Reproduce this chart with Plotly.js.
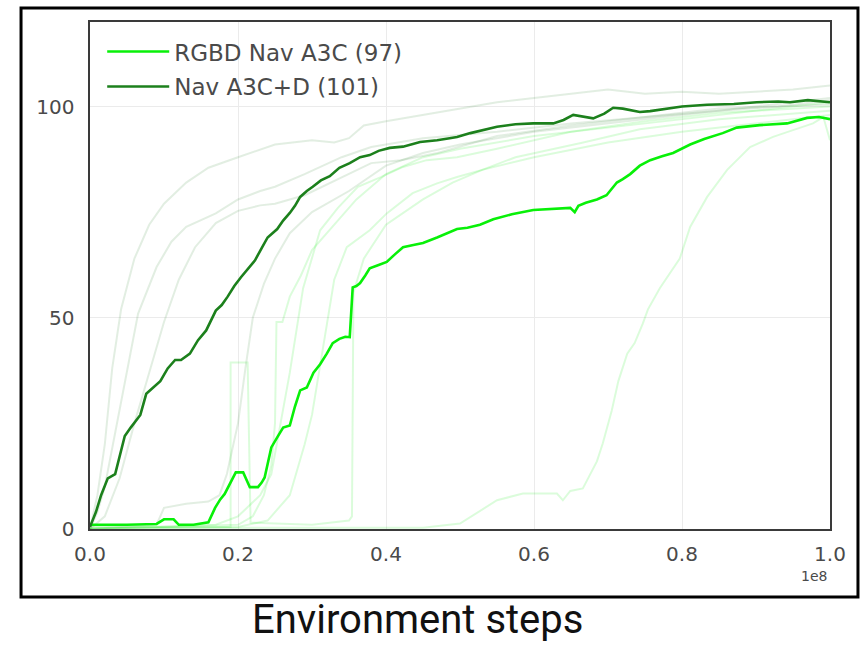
<!DOCTYPE html>
<html>
<head>
<meta charset="utf-8">
<script src="https://cdn.plot.ly/plotly-3.0.1.min.js"></script>
<style>
  html, body { margin: 0; padding: 0; background: #ffffff; }
  #chart { width: 862px; height: 667px; }
</style>
</head>
<body>
<div id="chart"></div>
<script>
// Environment steps are in units of 1e8 (the axis offset label shows "1e8").

// Highlighted runs
const rgbdX = [0, 0.01, 0.05, 0.09, 0.1, 0.113, 0.12, 0.14, 0.16, 0.169, 0.176, 0.182, 0.19, 0.197, 0.207, 0.212, 0.216, 0.227, 0.232, 0.236, 0.241, 0.245, 0.254, 0.261, 0.27, 0.277, 0.284, 0.293, 0.302, 0.311, 0.32, 0.328, 0.337, 0.345, 0.351, 0.355, 0.36, 0.365, 0.372, 0.378, 0.39, 0.401, 0.412, 0.423, 0.437, 0.45, 0.469, 0.486, 0.496, 0.51, 0.527, 0.545, 0.57, 0.599, 0.625, 0.649, 0.655, 0.66, 0.67, 0.685, 0.698, 0.705, 0.712, 0.72, 0.73, 0.743, 0.757, 0.773, 0.788, 0.811, 0.83, 0.855, 0.874, 0.905, 0.942, 0.969, 0.985, 1.0];
const rgbdY = [1, 1, 1, 1.2, 2.3, 2.3, 1, 1, 1.6, 5, 7, 8.3, 11, 13.4, 13.4, 11.5, 9.9, 9.9, 11, 12.2, 16, 19.3, 22, 24, 24.5, 29, 32.8, 33.5, 37, 39, 41.5, 44, 45, 45.5, 45.4, 57.2, 57.5, 58.2, 60, 61.7, 62.5, 63.2, 65, 66.7, 67.2, 67.7, 69, 70.3, 71, 71.3, 72, 73.3, 74.5, 75.5, 75.8, 76, 75, 76.5, 77.2, 78, 79, 80.5, 82, 82.8, 84, 86, 87.3, 88.2, 89, 91, 92.3, 93.7, 95, 95.6, 96, 97.3, 97.5, 97];

const navX = [0, 0.008, 0.015, 0.024, 0.034, 0.04, 0.047, 0.055, 0.062, 0.068, 0.076, 0.085, 0.095, 0.105, 0.115, 0.123, 0.135, 0.146, 0.157, 0.17, 0.178, 0.186, 0.195, 0.204, 0.213, 0.223, 0.232, 0.24, 0.253, 0.261, 0.27, 0.277, 0.284, 0.293, 0.301, 0.312, 0.324, 0.337, 0.351, 0.365, 0.378, 0.39, 0.405, 0.423, 0.446, 0.469, 0.486, 0.496, 0.514, 0.53, 0.55, 0.575, 0.599, 0.626, 0.64, 0.653, 0.668, 0.68, 0.695, 0.707, 0.72, 0.73, 0.743, 0.757, 0.77, 0.8, 0.834, 0.87, 0.901, 0.93, 0.946, 0.97, 1.0];
const navY = [0.5, 4, 8, 12, 13, 17, 22, 24, 25.5, 27, 32, 33.5, 35, 38, 40, 40, 41.5, 44.7, 47, 51.7, 53, 55, 57.5, 59.6, 61.5, 63.6, 66.5, 69, 71, 73, 74.8, 76.5, 78.6, 80, 81, 82.5, 83.5, 85.5, 86.6, 88, 88.5, 89.5, 90.2, 90.5, 91.6, 92, 92.5, 92.8, 93.7, 94.3, 95.2, 95.8, 96, 96, 96.8, 98, 97.5, 97.2, 98.3, 99.7, 99.5, 99.2, 98.7, 98.9, 99.2, 100, 100.4, 100.6, 101, 101.2, 101, 101.5, 101];

// Other runs, drawn faintly behind
const run1X = [0, 0.01, 0.02, 0.03, 0.042, 0.06, 0.08, 0.1, 0.13, 0.16, 0.2, 0.25, 0.3, 0.33, 0.35, 0.37, 0.4, 0.45, 0.5, 0.55, 0.6, 0.65, 0.7, 0.75, 0.8, 0.85, 0.9, 0.95, 1.0];
const run1Y = [0, 8, 20, 38, 52, 64, 72, 77, 82, 85.5, 88, 91, 92, 91.5, 92.5, 95.5, 96.5, 98, 99.5, 101, 102, 103, 104, 103, 103.5, 103, 103.5, 104, 105];
const run2X = [0, 0.01, 0.02, 0.04, 0.065, 0.09, 0.11, 0.13, 0.17, 0.2, 0.23, 0.25, 0.29, 0.34, 0.38, 0.45, 0.55, 0.65, 0.75, 0.85, 0.93, 1.0];
const run2Y = [0, 4, 10, 28, 51, 62, 68, 71.5, 74.7, 78, 80, 81, 84, 88, 90.4, 92.5, 94, 96, 97.5, 99, 100, 101.5];
const run3X = [0, 0.02, 0.04, 0.06, 0.08, 0.1, 0.12, 0.142, 0.17, 0.2, 0.23, 0.25, 0.29, 0.34, 0.38, 0.42, 0.47, 0.55, 0.65, 0.75, 0.85, 1.0];
const run3Y = [0, 3, 12, 25, 37, 49, 59, 66.7, 72.4, 75.3, 76.6, 77, 79, 83.3, 86.6, 87.3, 89, 93, 95.5, 97.5, 99.5, 100.5];
const run4X = [0, 0.09, 0.1, 0.13, 0.16, 0.175, 0.185, 0.2, 0.21, 0.22, 0.235, 0.25, 0.27, 0.3, 0.35, 0.4, 0.45, 0.5, 0.6, 0.7, 0.8, 0.9, 1.0];
const run4Y = [0, 1, 5, 6, 6.5, 8, 13, 25, 38, 50, 58, 64, 70, 75, 80, 86, 89, 91, 94, 96, 98, 100, 102];
const run5X = [0, 0.2, 0.22, 0.235, 0.245, 0.25, 0.252, 0.26, 0.27, 0.285, 0.3, 0.33, 0.36, 0.4, 0.45, 0.5, 0.6, 0.7, 0.8, 0.9, 1.0];
const run5Y = [0, 1, 3, 8, 15, 25, 49, 49, 55, 60, 66, 72, 78, 84, 88, 90, 93, 95, 97, 99, 101];
const run6X = [0, 0.17, 0.2, 0.23, 0.245, 0.27, 0.288, 0.311, 0.335, 0.362, 0.393, 0.423, 0.455, 0.496, 0.55, 0.65, 0.75, 0.85, 1.0];
const run6Y = [0, 1, 3, 8, 13, 37, 57, 70.7, 76, 81, 83.3, 85.7, 87.3, 88, 90, 94, 96.5, 98.5, 100];
const run7X = [0, 0.2, 0.24, 0.27, 0.29, 0.3, 0.315, 0.33, 0.347, 0.378, 0.401, 0.436, 0.469, 0.496, 0.53, 0.575, 0.665, 0.743, 0.85, 1.0];
const run7Y = [0, 0.5, 2, 8, 20, 27, 43, 59, 66.7, 70.7, 74.7, 79.5, 81.8, 83.3, 85, 88, 91.4, 94.6, 97, 99];
const run8X = [0, 0.19, 0.19, 0.213, 0.217, 0.3, 0.35, 0.354, 0.356, 0.37, 0.4, 0.45, 0.49, 0.53, 0.6, 0.7, 0.8, 0.9, 1.0];
const run8Y = [0.5, 0.5, 39.4, 39.4, 1.5, 1, 2, 3, 56, 64, 72, 78, 82, 85, 88, 91.5, 94, 96, 98];
const run9X = [0, 0.45, 0.5, 0.55, 0.585, 0.631, 0.639, 0.649, 0.666, 0.685, 0.693, 0.705, 0.714, 0.726, 0.736, 0.747, 0.754, 0.77, 0.797, 0.811, 0.834, 0.861, 0.892, 0.923, 0.95, 0.977, 0.991, 0.996, 1.0];
const run9Y = [0.3, 0.3, 1.3, 6.8, 8.4, 8.4, 6.8, 9, 9.6, 16, 20.3, 28, 35, 41.5, 44, 48.6, 52, 57, 64, 71.5, 78.6, 85, 90.4, 92.8, 94.4, 96, 97.5, 94.4, 92];

// Axis ticks
const xTickVals = [0, 0.2, 0.4, 0.6, 0.8, 1.0];
const xTickText = ['0.0', '0.2', '0.4', '0.6', '0.8', '1.0'];
const yTickVals = [0, 50, 100];
const yTickText = ['0', '50', '100'];

const seriesNames = ['RGBD Nav A3C (97)', 'Nav A3C+D (101)'];

const DARK = 'rgb(28,128,28)';
const BRIGHT = 'rgb(8,240,8)';
const DARK_FAINT = 'rgba(28,120,28,0.13)';
const BRIGHT_FAINT = 'rgba(0,235,0,0.14)';

function faint(x, y, color) {
  return { x: x, y: y, type: 'scatter', mode: 'lines', showlegend: false, hoverinfo: 'skip',
           line: { color: color, width: 2 } };
}

const traces = [
  faint(run1X, run1Y, DARK_FAINT),
  faint(run2X, run2Y, DARK_FAINT),
  faint(run3X, run3Y, DARK_FAINT),
  faint(run4X, run4Y, DARK_FAINT),
  faint(run5X, run5Y, BRIGHT_FAINT),
  faint(run6X, run6Y, BRIGHT_FAINT),
  faint(run7X, run7Y, BRIGHT_FAINT),
  faint(run8X, run8Y, BRIGHT_FAINT),
  faint(run9X, run9Y, BRIGHT_FAINT),
  { x: rgbdX, y: rgbdY, type: 'scatter', mode: 'lines', name: seriesNames[0], legendgroup: 'rgbd',
    line: { color: BRIGHT, width: 2.6 } },
  { x: navX, y: navY, type: 'scatter', mode: 'lines', name: seriesNames[1], legendgroup: 'nav',
    line: { color: DARK, width: 2.6 } }
];

const tickFont = { family: 'DejaVu Sans, sans-serif', size: 20, color: '#4a4a4a' };

const layout = {
  width: 862,
  height: 667,
  margin: { l: 90, r: 32, t: 22, b: 138 },
  paper_bgcolor: '#ffffff',
  plot_bgcolor: '#ffffff',
  showlegend: true,
  legend: {
    x: 0.0165, y: 0.984, xanchor: 'left', yanchor: 'top',
    bgcolor: 'rgba(0,0,0,0)',
    font: { family: 'DejaVu Sans, sans-serif', size: 23, color: '#4a4a4a' },
    itemwidth: 62,
    tracegroupgap: 2
  },
  xaxis: {
    range: [0, 1.0],
    tickvals: xTickVals, ticktext: xTickText,
    tickfont: tickFont,
    ticks: '', ticklabelstandoff: 6,
    showgrid: true, gridcolor: '#ebebeb', gridwidth: 1,
    zeroline: false,
    showline: true, linecolor: '#3a3a3a', linewidth: 1.6, mirror: true
  },
  yaxis: {
    range: [0, 120],
    tickvals: yTickVals, ticktext: yTickText,
    tickfont: tickFont,
    ticks: '', ticklabelstandoff: 10,
    showgrid: true, gridcolor: '#ebebeb', gridwidth: 1,
    zeroline: false,
    showline: true, linecolor: '#3a3a3a', linewidth: 1.6, mirror: true
  },
  shapes: [
    { type: 'rect', xref: 'paper', yref: 'paper',
      x0: -0.0932, x1: 1.0378, y0: -0.1341, y1: 1.0276,
      line: { color: '#000000', width: 3 }, fillcolor: 'rgba(0,0,0,0)', layer: 'above' }
  ],
  annotations: [
    { text: '1e8', xref: 'paper', yref: 'paper', x: 0.978, y: -0.093,
      xanchor: 'center', yanchor: 'middle', showarrow: false,
      font: { family: 'DejaVu Sans, sans-serif', size: 14, color: '#4a4a4a' } },
    { text: 'Environment steps', xref: 'paper', yref: 'paper', x: 0.4419, y: -0.178,
      xanchor: 'center', yanchor: 'middle', showarrow: false,
      font: { family: 'Roboto, sans-serif', size: 40, color: '#111111' } }
  ]
};

Plotly.newPlot('chart', traces, layout, { staticPlot: true, displayModeBar: false });
</script>
</body>
</html>
